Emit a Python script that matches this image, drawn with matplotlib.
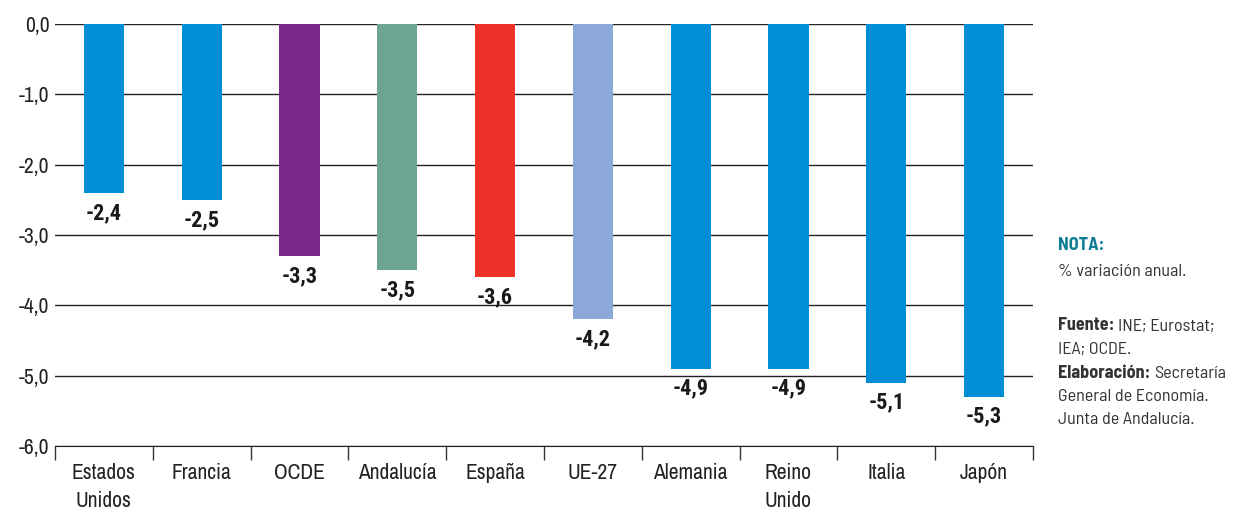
import numpy as np
import matplotlib.pyplot as plt
from matplotlib import font_manager

# chart data
countries = ['Estados\nUnidos', 'Francia', 'OCDE', 'Andalucía', 'España', 'UE-27',
             'Alemania', 'Reino\nUnido', 'Italia', 'Japón']
values = [-2.4, -2.5, -3.3, -3.5, -3.6, -4.2, -4.9, -4.9, -5.1, -5.3]
colors = ['#008fd5', '#008fd5', '#7b2a8b', '#6da594', '#ee3129', '#8ba8d8',
          '#008fd5', '#008fd5', '#008fd5', '#008fd5']
yticks = [0, -1, -2, -3, -4, -5, -6]


def pick(*fams, bold=False):
    fonts = font_manager.fontManager.ttflist
    for fam in fams:
        for f in fonts:
            if f.name == fam and (not bold or f.weight in (700, 'bold')):
                return fam
    return 'DejaVu Sans'


font = pick('Archivo Narrow', 'Roboto Condensed', 'Liberation Sans Narrow')
bold_font = pick('Roboto Condensed', 'Barlow Condensed', 'Asap Condensed', bold=True)
note_font = pick('Barlow Semi Condensed', 'Archivo Narrow', 'Roboto Condensed')
plt.rcParams['font.family'] = font
fs = 12 if font == 'DejaVu Sans' else 15.5
bfs = 12 if bold_font == 'DejaVu Sans' else 16

fig = plt.figure(figsize=(12.53, 5.13), dpi=100)
ax = fig.add_axes([0.0439, 0.1306, 0.7805, 0.8226])

x = np.arange(len(countries))
ax.bar(x, values, width=0.41, color=colors, zorder=3)

for xi, v in zip(x, values):
    ax.annotate(f'{v:.1f}'.replace('.', ','), (xi, v), xytext=(0, -6.5),
                textcoords='offset points', ha='center', va='top',
                fontsize=bfs, fontweight='bold', family=bold_font, color='#1a1a1a')

ax.set_xlim(-0.5, len(countries) - 0.5)
ax.set_ylim(-6, 0)
ax.set_yticks(yticks)
ax.set_yticklabels([f'{t:.1f}'.replace('.', ',') for t in yticks], fontsize=fs, color='#222222')
ax.set_xticks(x)
ax.set_xticklabels(countries, fontsize=fs, color='#222222', linespacing=1.5, va='top')
ax.set_xticks(np.arange(-0.5, len(countries)), minor=True)
ax.tick_params(axis='x', which='major', length=0, pad=12)
ax.tick_params(axis='x', which='minor', length=10, width=1, color='#333333', direction='out')
ax.tick_params(axis='y', length=0, pad=4)

ax.grid(axis='y', color='#222222', linewidth=1, zorder=1)
for s in ['top', 'right', 'left']:
    ax.spines[s].set_visible(False)
ax.spines['bottom'].set_color('#222222')

# side note
nfs = 10 if note_font == 'DejaVu Sans' else 13
x0 = 0.8445
fig.text(x0, 1 - 246 / 513, 'NOTA:', fontsize=nfs, fontweight='bold', color='#0e7c93',
         family=note_font, va='center')
fig.text(x0, 1 - 272 / 513, '% variación anual.', fontsize=nfs, color='#333333',
         family=note_font, va='center')
lines = [('Fuente: ', 'INE; Eurostat;'), ('', 'IEA; OCDE.'),
         ('Elaboración: ', 'Secretaría'), ('', 'General de Economía.'),
         ('', 'Junta de Andalucía.')]
ypix = 326
fig.canvas.draw()
for bold, rest in lines:
    yy = 1 - ypix / 513
    xx = x0
    if bold:
        t = fig.text(x0, yy, bold, fontsize=nfs, fontweight='bold', color='#333333',
                     family=note_font, va='center')
        bb = t.get_window_extent(renderer=fig.canvas.get_renderer())
        xx = bb.x1 / fig.bbox.width
    fig.text(xx, yy, rest, fontsize=nfs, color='#333333', family=note_font, va='center')
    ypix += 23.5

fig.savefig('out.png', dpi=100)
